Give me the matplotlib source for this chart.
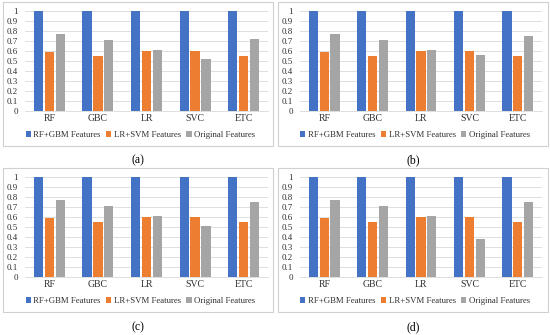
import numpy as np
import matplotlib.pyplot as plt
from matplotlib.patches import Rectangle

# classifier names and the three feature sets
classifiers = ['RF', 'GBC', 'LR', 'SVC', 'ETC']
series_names = ['RF+GBM Features', 'LR+SVM Features', 'Original Features']

rf_gbm = [1.0, 1.0, 1.0, 1.0, 1.0]
lr_svm = [0.59, 0.55, 0.60, 0.60, 0.55]
orig_a = [0.77, 0.71, 0.61, 0.52, 0.72]
orig_b = [0.77, 0.71, 0.61, 0.56, 0.75]
orig_c = [0.77, 0.71, 0.61, 0.51, 0.75]
orig_d = [0.77, 0.71, 0.61, 0.38, 0.75]

captions = ['(a)', '(b)', '(c)', '(d)']
originals = [orig_a, orig_b, orig_c, orig_d]

colors = ['#4472C4', '#ED7D31', '#A5A5A5']

plt.rcParams['font.family'] = ['Liberation Serif', 'DejaVu Serif']

W, H = 550, 335
fig = plt.figure(figsize=(W / 100, H / 100), dpi=100)


def px_axes(x0, y0, x1, y1):
    # pixel box (top-left origin) -> figure axes
    return fig.add_axes([x0 / W, 1 - y1 / H, (x1 - x0) / W, (y1 - y0) / H])


# (box x0, box y0, box x1, box y1, axes x0, axes x1, axes top, axes bottom, caption y)
layout = [
    (3, 2, 273, 146, 25, 268, 11, 111, 160),
    (278, 2, 548, 146, 300, 542, 11, 111, 160),
    (3, 168, 273, 312, 25, 268, 177, 277, 327),
    (278, 168, 548, 312, 300, 542, 177, 277, 327),
]

x = np.arange(len(classifiers))
bw = 0.19
step = 0.225

for (bx0, by0, bx1, by1, ax0, ax1, at, ab, cy), orig, cap in zip(layout, originals, captions):
    fig.patches.append(Rectangle((bx0 / W, 1 - by1 / H), (bx1 - bx0) / W, (by1 - by0) / H,
                                 transform=fig.transFigure, fill=False,
                                 edgecolor='#D0D0D0', linewidth=0.8))
    ax = px_axes(ax0, at, ax1, ab)
    vals = [rf_gbm, lr_svm, orig]
    handles = []
    for i, (v, c, name) in enumerate(zip(vals, colors, series_names)):
        h = ax.bar(x + (i - 1) * step, v, bw, color=c, label=name, zorder=3)
        handles.append(h)
    ax.set_xlim(-0.5, len(classifiers) - 0.5)
    ax.set_ylim(0, 1)
    ax.set_yticks(np.arange(0, 1.01, 0.1))
    ax.set_yticklabels(['0'] + ['%.1f' % t for t in np.arange(0.1, 0.95, 0.1)] + ['1'])
    ax.set_xticks(x)
    ax.set_xticklabels(classifiers)
    ax.yaxis.grid(True, color='#D9D9D9', linewidth=0.6, zorder=0)
    for s in ['top', 'right', 'left']:
        ax.spines[s].set_visible(False)
    ax.spines['bottom'].set_color('#D9D9D9')
    ax.spines['bottom'].set_linewidth(0.6)
    ax.tick_params(axis='both', length=0, labelsize=6.5, colors='#303030')
    ax.tick_params(axis='x', labelsize=7, pad=2.5)
    ax.tick_params(axis='y', pad=5)
    cx = (ax0 + ax1) / 2 - 6
    fig.legend(handles=handles, labels=series_names, ncol=3, loc='center',
               bbox_to_anchor=(cx / W, 1 - (at + 124) / H), frameon=False,
               fontsize=6.3, handlelength=0.6, handleheight=0.6, handletextpad=0.3,
               columnspacing=0.6, borderaxespad=0, labelcolor='#303030')
    fig.text(((bx0 + bx1) / 2) / W, 1 - cy / H, cap, ha='center', va='center',
             fontsize=8.5, color='black')

fig.savefig('out.png', dpi=100)
